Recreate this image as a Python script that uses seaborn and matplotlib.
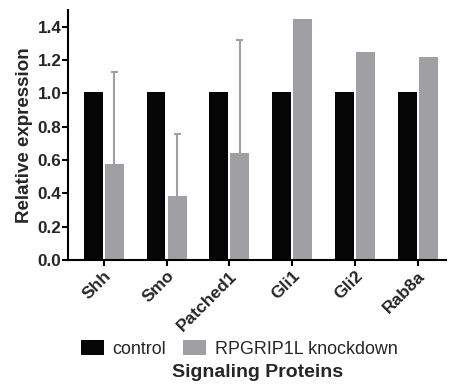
import matplotlib
matplotlib.use("Agg")
import matplotlib.pyplot as plt
import seaborn as sns
import pandas as pd
from matplotlib.patches import Patch

categories = ["Shh", "Smo", "Patched1", "Gli1", "Gli2", "Rab8a"]
control = [1.01, 1.01, 1.01, 1.01, 1.01, 1.01]
knockdown = [0.577, 0.386, 0.64, 1.446, 1.246, 1.218]
knockdown_err = [0.55, 0.37, 0.68, 0.0, 0.0, 0.0]
groups = ["control", "RPGRIP1L knockdown"]
colors = ["#050505", "#a0a0a4"]

sns.set_style("ticks")
plt.rcParams["font.family"] = ["Liberation Sans", "DejaVu Sans"]

df = pd.DataFrame({
    "protein": categories * 2,
    "value": control + knockdown,
    "group": [groups[0]] * len(categories) + [groups[1]] * len(categories),
})

fig = plt.figure(figsize=(4.56, 3.87), dpi=100)
ax = fig.add_axes([0.149, 0.328, 0.829, 0.646])
sns.barplot(data=df, x="protein", y="value", hue="group", palette=colors,
            width=0.67, gap=0.1, errorbar=None, ax=ax, legend=False,
            saturation=1, linewidth=0, zorder=2)

# error bars on knockdown bars (upper only)
kd_patches = ax.patches[len(categories):2 * len(categories)]
for p, v, e in zip(kd_patches, knockdown, knockdown_err):
    if e > 0:
        xc = p.get_x() + p.get_width() / 2
        ax.vlines(xc, v, v + e, colors="#a0a0a4", linewidth=1.5, zorder=1)
        ax.hlines(v + e, xc - 0.055, xc + 0.055, colors="#a0a0a4",
                  linewidth=1.5, zorder=1)

ax.set_ylim(0, 1.5)
ax.set_xlim(-0.57, 5.45)
ax.set_yticks([0.0, 0.2, 0.4, 0.6, 0.8, 1.0, 1.2, 1.4])
ax.set_yticklabels([f"{t:.1f}" for t in ax.get_yticks()], fontsize=12.3, fontweight="bold")
ax.set_xticks(range(len(categories)))
ax.set_xticklabels(categories, rotation=45, ha="right", rotation_mode="anchor",
                   fontsize=12.5, fontweight="bold")
ax.set_ylabel("Relative expression", fontsize=13.5, fontweight="bold")
ax.yaxis.set_label_coords(-0.092, 0.5)
ax.set_xlabel("")
for s in ["top", "right"]:
    ax.spines[s].set_visible(False)
for s in ["left", "bottom"]:
    ax.spines[s].set_linewidth(1.5)
    ax.spines[s].set_color("black")
ax.tick_params(axis="both", width=1.5, length=4, color="black", pad=2)
ax.tick_params(axis="y", pad=0.8)

handles = [Patch(facecolor=c, edgecolor="none") for c in colors]
fig.legend(handles, groups, loc="center", bbox_to_anchor=(0.524, 0.098),
           ncol=2, frameon=False, fontsize=12.9, handlelength=1.29,
           handleheight=0.84, handletextpad=0.5, columnspacing=0.9)
fig.text(0.565, 0.038, "Signaling Proteins", ha="center", va="center",
         fontsize=14, fontweight="bold")

fig.savefig("out.png", dpi=100)
